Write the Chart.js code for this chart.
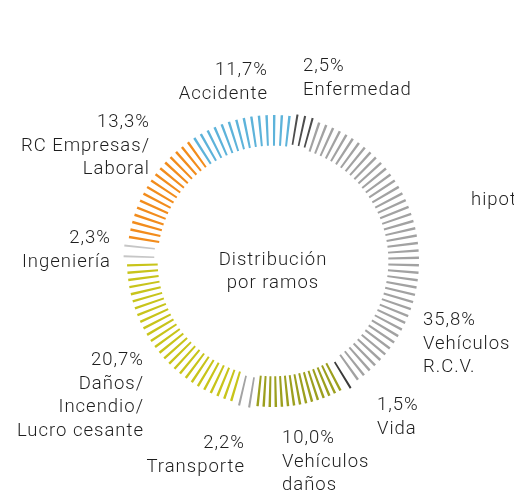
<!DOCTYPE html>
<html>
<head>
<meta charset="utf-8">
<script src="https://cdn.jsdelivr.net/npm/chart.js@4"></script>
<style>
  body { margin: 0; background: #fff; }
  canvas { display: block; }
</style>
</head>
<body>
<canvas id="ramos" width="514" height="491"></canvas>
<script>
// segments clockwise from the top
const segNames = ['Enfermedad', 'Vehículos R.C.V.', 'Vida', 'Vehículos daños', 'Transporte',
    'Daños/Incendio/Lucro cesante', 'Ingeniería', 'RC Empresas/Laboral', 'Accidente'];
const segValues = [2.5, 35.8, 1.5, 10.0, 2.2, 20.7, 2.3, 13.3, 11.7];
const tickCounts = [3, 44, 1, 15, 2, 26, 2, 16, 14];
const segColors = ['#4d4d4d', '#a2a2a2', '#3a3a3a', '#9c9f1e', '#a3a3a3',
    '#c8c41a', '#c6c6c6', '#f28c1c', '#5db3da'];
const segOffsets = [5, 0, 6, 0, 5, 0, 7, 0, 0];

// text around the ring
const pctLabels = ['2,5%', '35,8%', '1,5%', '10,0%', '2,2%', '20,7%', '2,3%', '13,3%', '11,7%'];
const nameLines = [['Enfermedad'], ['Vehículos', 'R.C.V.'], ['Vida'], ['Vehículos', 'daños'], ['Transporte'],
    ['Daños/', 'Incendio/', 'Lucro cesante'], ['Ingeniería'], ['RC Empresas/', 'Laboral'], ['Accidente']];
const labelPos = [
    {x: 303, y: 71, align: 'left'},
    {x: 423, y: 325, align: 'left'},
    {x: 377, y: 410, align: 'left'},
    {x: 282, y: 443, align: 'left'},
    {x: 245, y: 448, align: 'right'},
    {x: 144, y: 365, align: 'right'},
    {x: 111, y: 243, align: 'right'},
    {x: 150, y: 127, align: 'right'},
    {x: 268, y: 75, align: 'right'}
];
const centerLines = ['Distribución', 'por ramos'];

const TICK = 0.27;
let values = [], colors = [], offsets = [];
segValues.forEach((v, i) => {
    const slot = v / tickCounts[i];
    for(let k = 0; k < tickCounts[i]; k++){
        values.push((slot - TICK) / 2, TICK, (slot - TICK) / 2);
        colors.push('rgba(0,0,0,0)', segColors[i], 'rgba(0,0,0,0)');
        offsets.push(0, segOffsets[i], 0);
    }
});

const textPlugin = {
    id: 'ringText',
    afterDraw(chart){
        const ctx = chart.ctx;
        ctx.save();
        ctx.fillStyle = '#1e1e1e';
        ctx.font = '300 18.5px Roboto';
        ctx.letterSpacing = '1px';
        ctx.textBaseline = 'alphabetic';
        labelPos.forEach((p, i) => {
            ctx.textAlign = p.align;
            ctx.fillText(pctLabels[i], p.x, p.y);
            nameLines[i].forEach((line, j) => {
                ctx.fillText(line, p.x, p.y + 23.5 * (j + 1));
            });
        });
        ctx.textAlign = 'left';
        ctx.fillText('hipotecarios', 471, 205);

        const meta = chart.getDatasetMeta(0).data[0];
        ctx.textAlign = 'center';
        ctx.fillText(centerLines[0], meta.x, 265);
        ctx.fillText(centerLines[1], meta.x, 288);
        ctx.restore();
    }
};

new Chart(document.getElementById('ramos'), {
    type: 'doughnut',
    data: {
        labels: values.map((v, i) => i),
        datasets: [{
            data: values,
            backgroundColor: colors,
            borderWidth: 0,
            offset: offsets
        }]
    },
    options: {
        responsive: false,
        animation: false,
        events: [],
        rotation: 8,
        radius: 146,
        cutout: '79%',
        layout: {
            padding: {left: 32, right: 0, top: 31, bottom: 0}
        },
        plugins: {
            legend: {display: false},
            tooltip: {enabled: false}
        }
    },
    plugins: [textPlugin]
});
</script>
</body>
</html>
